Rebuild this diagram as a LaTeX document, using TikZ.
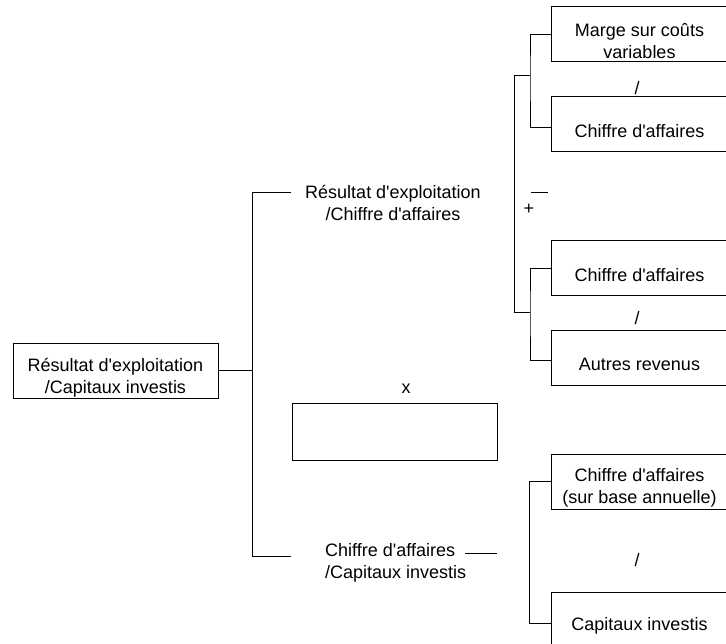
\documentclass[tikz,border=0pt]{standalone}
\usepackage{fontspec}
\setmainfont{Liberation Sans}
\newcommand\ap{\textquotesingle}
\tikzstyle{ln}=[line width=1pt]
\tikzstyle{lbl}=[inner sep=0pt,align=center]
\tikzstyle{bx}=[draw,ln,minimum height=55pt,inner sep=0pt,label={[lbl,yshift=-6.5pt]center:#1}]
\tikzstyle{rbx}=[bx=#1,minimum width=177pt]
\begin{document}
\begin{tikzpicture}[x=1pt,y=-1pt,font=\fontsize{18}{21.5}\selectfont]
	\clip (0,0) rectangle (726,644);
	\node[bx={Résultat d\ap exploitation\\/Capitaux investis},minimum width=205pt] (root) at (115.5,371) {};
	\node[lbl] (rca) at (393,203) {Résultat d\ap exploitation\\/Chiffre d\ap affaires};
	\node[lbl] (fois) at (406,389) {x};
	\node[bx={},minimum width=205pt,minimum height=56pt] (vide) at (394.5,432) {};
	\node[lbl,align=left,anchor=west] (cci) at (325,563) {Chiffre d\ap affaires\\/Capitaux investis};
	% right hand side
	\node[rbx={Marge sur coûts\\variables}] (mcv) at (639.5,34.5) {};
	\node[rbx={Chiffre d\ap affaires}] (ca1) at (639.5,124.5) {};
	\node[rbx={Chiffre d\ap affaires}] (ca2) at (639.5,268.5) {};
	\node[rbx={Autres revenus}] (ar) at (639.5,358) {};
	\node[rbx={Chiffre d\ap affaires\\(sur base annuelle)}] (cab) at (639.5,481.5) {};
	\node[rbx={Capitaux investis}] (ci) at (639.5,619.5) {};
	\node[lbl] (d1) at (637,88) {/};
	\node[lbl] (d2) at (637,318) {/};
	\node[lbl] (d3) at (637,560) {/};
	\node[lbl] (plus) at (529,209) {+};
	\coordinate (bar1) at (531,193);
	\coordinate (bar2) at (548,193);
	\draw[ln] (bar1) -- (bar2);
	% brackets
	\coordinate (h1) at (291,193);
	\coordinate (h2) at (291,556);
	\draw[ln] (root.east) -- ++(34,0) coordinate (j0);
	\draw[ln] (h1) -| (j0) |- (h2);
	\coordinate (k1) at (530,76);
	\coordinate (k2) at (530,313);
	\draw[ln] (mcv.west) -| (k1) |- ([yshift=-3.5pt]ca1.west);
	\draw[ln] (ca2.west) -| (k2) |- ([yshift=-3pt]ar.west);
	\draw[ln] (k1) -- ++(-16,0) |- (k2);
	\draw[ln] (cab.west) -- ++(-21,0) |- ([yshift=-3.5pt]ci.west);
	\coordinate (u1) at (465,553);
	\coordinate (u2) at (497,553);
	\draw[ln] (u1) -- (u2);
\end{tikzpicture}
\end{document}
